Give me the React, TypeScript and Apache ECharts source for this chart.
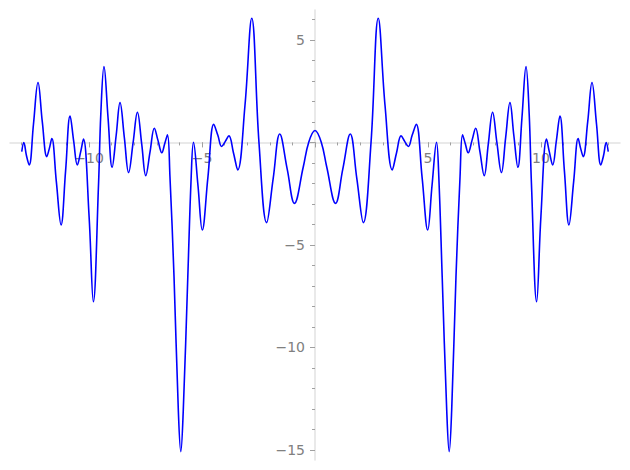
import React, { useEffect, useRef } from "react";
import * as echarts from "echarts";

// Curve samples (x, y)
const xValues: number[] = [
  -12.98, -12.89, -12.77, -12.65, -12.46, -12.26, -12.07, -11.87, -11.76, -11.65,
  -11.45, -11.24, -11.04, -10.84, -10.68, -10.52, -10.38, -10.25, -10.0, -9.81,
  -9.58, -9.48, -9.34, -9.16, -8.98, -8.8, -8.63, -8.44, -8.25, -8.05,
  -7.86, -7.67, -7.49, -7.3, -7.11, -6.95, -6.78, -6.65, -6.53, -6.42,
  -6.24, -6.05, -5.94, -5.83, -5.63, -5.48, -5.38, -5.18, -4.99, -4.74,
  -4.48, -4.3, -4.13, -3.97, -3.81, -3.61, -3.42, -3.1, -2.8, -2.48,
  -2.14, -1.85, -1.56, -1.23, -0.91, -0.52, -0.28, 0,
  0.28, 0.52, 0.91, 1.23, 1.56, 1.85, 2.14, 2.48, 2.8, 3.1,
  3.42, 3.61, 3.81, 3.97, 4.13, 4.3, 4.48, 4.74, 4.99, 5.18,
  5.38, 5.48, 5.63, 5.83, 5.94, 6.05, 6.24, 6.42, 6.53, 6.65,
  6.78, 6.95, 7.11, 7.3, 7.49, 7.67, 7.86, 8.05, 8.25, 8.44,
  8.63, 8.8, 8.98, 9.16, 9.34, 9.48, 9.58, 9.81, 10.0, 10.25,
  10.38, 10.52, 10.68, 10.84, 11.04, 11.24, 11.45, 11.65, 11.76, 11.87,
  12.07, 12.26, 12.46, 12.65, 12.77, 12.89, 12.98,
];
const yValues: number[] = [
  -0.45, 0.0, -0.65, -1.1, 0.9, 2.92, 1.0, -0.69, -0.3, 0.19,
  -1.9, -4.02, -1.4, 1.29, 0.05, -1.1, -0.5, 0.16, -3.6, -7.77,
  -2.0, 1.4, 3.7, 1.2, -1.21, 0.35, 1.94, 0.25, -1.47, 0.0,
  1.47, -0.08, -1.62, -0.45, 0.69, 0.1, -0.5, -0.05, 0.37, -1.67,
  -6.55, -13.05, -15.08, -13.05, -6.55, -1.67, 0.01, -2.1, -4.27, -1.7,
  0.89, 0.35, -0.2, 0.05, 0.32, -0.5, -1.34, 1.8, 6.06, 0.0,
  -3.91, -1.75, 0.41, -1.3, -2.97, -1.2, 0.0, 0.58,
  0.0, -1.2, -2.97, -1.3, 0.41, -1.75, -3.91, 0.0, 6.06, 1.8,
  -1.34, -0.5, 0.32, 0.05, -0.2, 0.35, 0.89, -1.7, -4.27, -2.1,
  0.01, -1.67, -6.55, -13.05, -15.08, -13.05, -6.55, -1.67, 0.37, -0.05,
  -0.5, 0.1, 0.69, -0.45, -1.62, -0.08, 1.47, 0.0, -1.47, 0.25,
  1.94, 0.35, -1.21, 1.2, 3.7, 1.4, -2.0, -7.77, -3.6, 0.16,
  -0.5, -1.1, 0.05, 1.29, -1.4, -4.02, -1.9, 0.19, -0.3, -0.69,
  1.0, 2.92, 0.9, -1.1, -0.65, 0.0, -0.45,
];

const xMajorTicks = [-10, -5, 0, 5, 10];
const xTickLabels = [-10, -5, 5, 10];
const xMinorTicks = [-13, -12, -11, -10, -9, -8, -7, -6, -5, -4, -3, -2, -1, 0, 1, 2, 3, 4, 5, 6, 7, 8, 9, 10, 11, 12, 13];
const yMajorTicks = [-15, -10, -5, 0, 5];
const yTickLabels = [-15, -10, -5, 5];
const yMinorTicks = [-15, -14, -13, -12, -11, -10, -9, -8, -7, -6, -5, -4, -3, -2, -1, 0, 1, 2, 3, 4, 5, 6];

const X_MIN = -13.5;
const X_MAX = 13.5;
const Y_MIN = -15.49;
const Y_MAX = 6.46;

const W = 630;
const H = 470;
const PAD = 10;

const fmt = (v: number) => String(v).replace("-", "\u2212");

export default function App() {
  const ref = useRef<HTMLDivElement>(null);
  useEffect(() => {
    document.body.style.margin = "0";
    if (!ref.current) return;
    const chart = echarts.init(ref.current, undefined, { renderer: "svg" });
    const gridW = W - 2 * PAD;
    const gridH = H - 2 * PAD;
    // move the axes so that they cross at the origin
    const xOffset = -(gridH * (0 - Y_MIN)) / (Y_MAX - Y_MIN);
    const yOffset = -(gridW * (0 - X_MIN)) / (X_MAX - X_MIN);
    const gridBox = { left: PAD, right: PAD, top: PAD, bottom: PAD, outerBoundsMode: "none" as any };
    const labelStyle = { fontFamily: "DejaVu Sans", fontSize: 14, color: "#808080" };
    const lineColor = "#e2e2e2";
    const tickColor = "#a0a0a0";
    chart.setOption({
      animation: false,
      backgroundColor: "#ffffff",
      grid: [gridBox],
      xAxis: [
        {
          type: "value",
          position: "bottom",
          offset: xOffset,
          min: X_MIN,
          max: X_MAX,
          axisLine: { show: true, onZero: false, lineStyle: { color: lineColor, width: 1.5 } },
          axisTick: { show: true, length: 5, customValues: xMajorTicks, lineStyle: { color: tickColor, width: 1 } },
          axisLabel: { show: true, margin: 9, customValues: xTickLabels, formatter: fmt, ...labelStyle },
          splitLine: { show: false },
        },
        {
          type: "value",
          position: "bottom",
          offset: xOffset,
          min: X_MIN,
          max: X_MAX,
          axisLine: { show: false, onZero: false },
          axisTick: { show: true, length: 3, customValues: xMinorTicks, lineStyle: { color: tickColor, width: 1 } },
          axisLabel: { show: false },
          splitLine: { show: false },
        },
      ],
      yAxis: [
        {
          type: "value",
          position: "left",
          offset: yOffset,
          min: Y_MIN,
          max: Y_MAX,
          axisLine: { show: true, onZero: false, lineStyle: { color: lineColor, width: 1.5 } },
          axisTick: { show: true, length: 5, customValues: yMajorTicks, lineStyle: { color: tickColor, width: 1 } },
          axisLabel: { show: true, margin: 10, customValues: yTickLabels, formatter: fmt, ...labelStyle },
          splitLine: { show: false },
        },
        {
          type: "value",
          position: "left",
          offset: yOffset,
          min: Y_MIN,
          max: Y_MAX,
          axisLine: { show: false, onZero: false },
          axisTick: { show: true, length: 3, customValues: yMinorTicks, lineStyle: { color: tickColor, width: 1 } },
          axisLabel: { show: false },
          splitLine: { show: false },
        },
      ],
      series: [
        {
          type: "line",
          xAxisIndex: 0,
          yAxisIndex: 0,
          data: xValues.map((x, i) => [x, yValues[i]]),
          showSymbol: false,
          smooth: 0.4,
          lineStyle: { color: "#0000ff", width: 1.6 },
          silent: true,
          z: 3,
        },
        {
          type: "line",
          xAxisIndex: 1,
          yAxisIndex: 1,
          data: [],
          showSymbol: false,
        },
      ],
    });
    return () => chart.dispose();
  }, []);
  return <div ref={ref} style={{ width: W, height: H }} />;
}
